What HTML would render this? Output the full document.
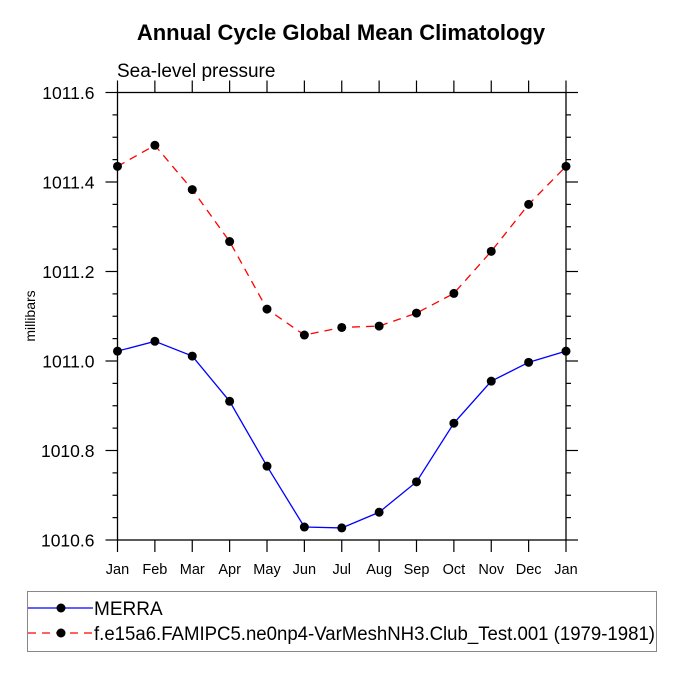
<!DOCTYPE html>
<html><head><meta charset="utf-8"><style>
body{margin:0;background:#fff;width:675px;height:675px;overflow:hidden}
svg text{font-family:"Liberation Sans",Helvetica,Arial,sans-serif;fill:#000}
</style></head><body>
<svg id="chart" width="675" height="675" xmlns="http://www.w3.org/2000/svg">
<text x="341" y="40" text-anchor="middle" font-size="22" font-weight="bold">Annual Cycle Global Mean Climatology</text>
<text x="117" y="77" font-size="19">Sea-level pressure</text>
<text transform="translate(35,316) rotate(-90)" text-anchor="middle" font-size="14">millibars</text>
<g id="axes"></g>
<g id="series"></g>
<g>
<rect x="27.5" y="591.5" width="629" height="60" fill="none" stroke="#888" stroke-width="1"/>
<line x1="28" y1="608" x2="93" y2="608" stroke="#0000ff" stroke-width="1.3"/>
<circle cx="61" cy="608" r="4.5" fill="#000"/>
<text x="94" y="615" font-size="19">MERRA</text>
<line x1="28" y1="633" x2="93" y2="633" stroke="#ff0000" stroke-width="1.3" stroke-dasharray="8,6"/>
<circle cx="61" cy="633" r="4.5" fill="#000"/>
<text x="94" y="640" font-size="19" textLength="561" lengthAdjust="spacingAndGlyphs">f.e15a6.FAMIPC5.ne0np4-VarMeshNH3.Club_Test.001 (1979-1981)</text>
</g>
</svg>
<script>
const months=["Jan","Feb","Mar","Apr","May","Jun","Jul","Aug","Sep","Oct","Nov","Dec","Jan"];
const merra=[1011.022,1011.044,1011.011,1010.910,1010.765,1010.629,1010.627,1010.662,1010.730,1010.861,1010.955,1010.997,1011.022];
const model=[1011.435,1011.482,1011.383,1011.267,1011.116,1011.058,1011.075,1011.078,1011.107,1011.151,1011.245,1011.350,1011.435];
const yTicks=[1010.6,1010.8,1011.0,1011.2,1011.4,1011.6];
const L=117.5,R=566,T=92.5,B=540,yMin=1010.6,yMax=1011.6;
const xs=i=>L+(R-L)*i/(months.length-1);
const ys=v=>B-(B-T)*(v-yMin)/(yMax-yMin);
const NS="http://www.w3.org/2000/svg";
function mk(tag,attrs,parent){const e=document.createElementNS(NS,tag);for(const k in attrs)e.setAttribute(k,attrs[k]);parent.appendChild(e);return e;}
const ax=document.getElementById('axes');
const frame=mk('rect',{x:L,y:T,width:R-L,height:B-T,fill:'none',stroke:'#000','stroke-width':1.3},ax);


months.forEach((m,i)=>{const x=xs(i);
mk('line',{x1:x,y1:B,x2:x,y2:B+12,stroke:'#000','stroke-width':1.2},ax);
mk('line',{x1:x,y1:T,x2:x,y2:T-12,stroke:'#000','stroke-width':1.2},ax);
const t=mk('text',{x:x,y:B+34,'text-anchor':'middle','font-size':14.5},ax);t.textContent=m;


});
for(let v=yMin;v<=yMax+1e-9;v+=0.05){const y=ys(v);const major=Math.abs(Math.round(v*5)-v*5)<1e-6;const len=major?12:5;
mk('line',{x1:L,y1:y,x2:L-len,y2:y,stroke:'#000','stroke-width':1.2},ax);
mk('line',{x1:R,y1:y,x2:R+len,y2:y,stroke:'#000','stroke-width':1.2},ax);}
yTicks.forEach(v=>{const t=mk('text',{x:L-23,y:ys(v)+6.5,'text-anchor':'end','font-size':17.5},ax);t.textContent=v.toFixed(1);


});
const sg=document.getElementById('series');
function draw(vals,color,dash,name){
const p=mk('polyline',{points:vals.map((v,i)=>xs(i)+','+ys(v)).join(' '),fill:'none',stroke:color,'stroke-width':1.3,'stroke-dasharray':dash},sg);


vals.forEach((v,i)=>{const c=mk('circle',{cx:xs(i),cy:ys(v),r:4.5,fill:'#000'},sg);

});}
draw(merra,'#0000ff','none','merra');
draw(model,'#ff0000','8,6','model');
</script>
</body></html>
